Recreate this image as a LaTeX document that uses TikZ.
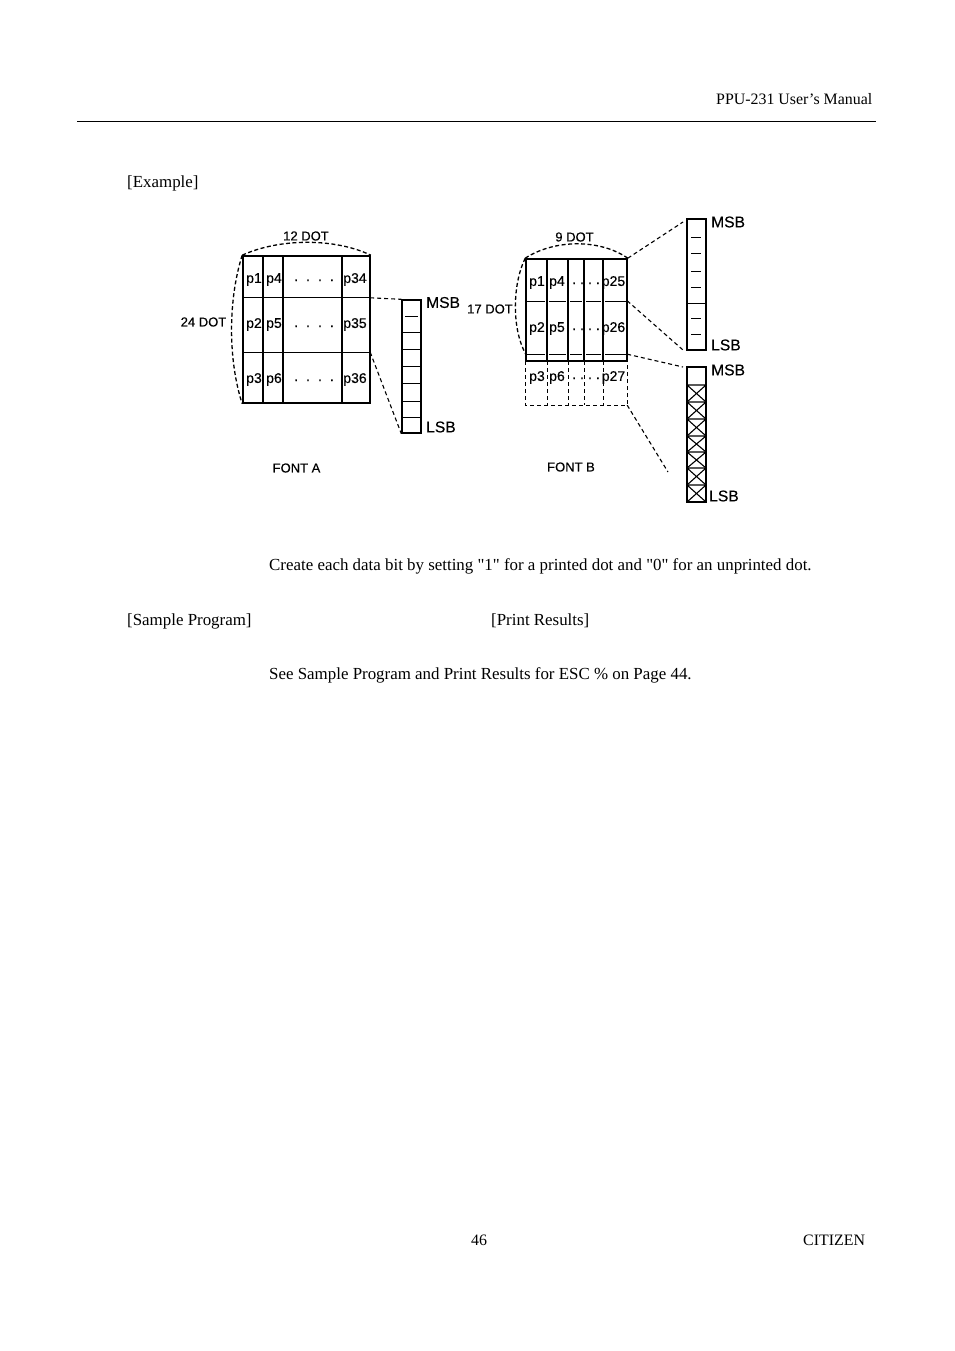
\documentclass[tikz,border=0pt]{standalone}
\usepackage{fontspec}
\setmainfont{Liberation Serif}[Ligatures=TeXOff]
\newfontfamily\scanfont{Liberation Sans}[FakeBold=0.35]
\usetikzlibrary{positioning,calc}

\begin{document}
\begin{tikzpicture}[x=1pt,y=-1pt,
pagetxt/.style={font=\fontsize{16.9}{20}\selectfont,inner sep=0pt,anchor=base west},
headtxt/.style={font=\fontsize{15.9}{19}\selectfont,inner sep=0pt,anchor=base west},
lbl/.style={font=\scanfont\fontsize{13}{15}\selectfont,inner sep=0pt},
cell/.style={font=\scanfont\fontsize{14}{16}\selectfont,inner sep=0pt,yshift=-1.5pt},
dotrow/.style={font=\scanfont\fontsize{14}{16}\selectfont,inner sep=0pt,anchor=base},
side/.style={font=\scanfont\fontsize{15.6}{17}\selectfont,inner sep=0pt,anchor=west},
gridbox/.style={draw,line width=1.6pt,inner sep=0pt},
stripbox/.style={draw,line width=1.4pt,inner sep=0pt,minimum width=19pt},
band/.style={inner sep=0pt},
leader/.style={dashed,dash pattern=on 4pt off 3pt,line width=1.1pt},
bow/.style={dashed,dash pattern=on 4pt off 2.5pt,line width=1.3pt}
]
\useasboundingbox (0,0) rectangle (954,1351);

% page text
\node[headtxt] (header) at (716,105) {PPU-231 User’s Manual};
\coordinate (ruleL) at (77,121);
\coordinate (ruleR) at (876,121);
\draw[line width=0.8pt] (ruleL) -- (ruleR);
\node[pagetxt] (example) at (127,187) {[Example]};
\node[pagetxt] (create) at (269,570) {Create each data bit by setting "1" for a printed dot and "0" for an unprinted dot.};
\node[pagetxt] (sample) at (127,625) {[Sample Program]};
\node[pagetxt] (results) at (491,625) {[Print Results]};
\node[pagetxt] (see) at (269,679) {See Sample Program and Print Results for ESC \% on Page 44.};
\node[headtxt] (pageno) at (471,1245) {46};
\node[headtxt] (citizen) at (803,1245) {CITIZEN};

% font A
\node[gridbox,minimum width=127pt,minimum height=147pt] (gridA) at (306.5,329.5) {};
\node[band,minimum width=127pt,minimum height=54pt] (rowAtwo) at (306.5,325) {};
\draw[line width=1.4pt] (263,256) -- (263,403) (283,256) -- (283,403) (342,256) -- (342,403);
\draw[line width=1.2pt] (rowAtwo.north west) -- (rowAtwo.north east) (rowAtwo.south west) -- (rowAtwo.south east);
\node[cell] (pa1) at (254,278) {p1};
\node[cell] (pa4) at (274,278) {p4};
\node[cell] (pa34) at (355,278) {p34};
\node[cell] (pa2) at (254,323) {p2};
\node[cell] (pa5) at (274,323) {p5};
\node[cell] (pa35) at (355,323) {p35};
\node[cell] (pa3) at (254,378) {p3};
\node[cell] (pa6) at (274,378) {p6};
\node[cell] (pa36) at (355,378) {p36};
\node[dotrow] (dotsAone) at (314,281) {.\hspace{8pt}.\hspace{8pt}.\hspace{8pt}.};
\node[dotrow] (dotsAtwo) at (314,327) {.\hspace{8pt}.\hspace{8pt}.\hspace{8pt}.};
\node[dotrow] (dotsAthree) at (314,381) {.\hspace{8pt}.\hspace{8pt}.\hspace{8pt}.};
\node[lbl] (widthA) at (306,236) {12 DOT};
\node[lbl] (heightA) at (203.5,322) {24 DOT};
\node[lbl] (fontA) at (296.5,468) {FONT A};
\draw[bow] (gridA.north west) .. controls (280,238) and (335,238) .. (gridA.north east);
\draw[bow] (gridA.north west) .. controls (228,300) and (228,360) .. (gridA.south west);

\node[stripbox,minimum height=133pt] (stripA) at (411.5,366.5) {};
\foreach \y in {332,349,366,383,401,417} \draw[line width=1pt] (403,\y) -- (421,\y);
\draw[line width=1pt] (405,316) -- (418,316);
\node[side] (msbA) at (426,302.5) {MSB};
\node[side] (lsbA) at (426,427) {LSB};
\draw[leader] (rowAtwo.north east) -- (stripA.north west);
\draw[leader] (rowAtwo.south east) -- (stripA.south west);

% font B
\node[gridbox,minimum width=101pt,minimum height=102pt] (gridB) at (576.5,310) {};
\node[band,minimum width=101pt,minimum height=53pt] (rowBtwo) at (576.5,327.5) {};
\node[band,minimum width=101pt,minimum height=44pt] (rowBthree) at (576.5,383) {};
\draw[line width=1.4pt] (547,259) -- (547,361) (568,259) -- (568,361) (584,259) -- (584,361) (603,259) -- (603,361);
\draw[line width=0.8pt] (527,301) -- (545,301) (549,301) -- (566,301) (570,301) -- (582,301) (586,301) -- (601,301) (605,301) -- (626,301);
\draw[line width=0.8pt] (527,354) -- (545,354) (549,354) -- (566,354) (570,354) -- (582,354) (586,354) -- (601,354) (605,354) -- (626,354);
\draw[leader] (rowBthree.north west) -- (rowBthree.south west) -- (rowBthree.south east) -- (rowBthree.north east);
\draw[leader,line width=0.9pt] (547,361) -- (547,405) (568,361) -- (568,405) (584,361) -- (584,405) (603,361) -- (603,405);
\node[cell] (pb1) at (537,281) {p1};
\node[cell] (pb4) at (557,281) {p4};
\node[cell] (pb25) at (613.5,281) {p25};
\node[cell] (pb2) at (537,327) {p2};
\node[cell] (pb5) at (557,327) {p5};
\node[cell] (pb26) at (613.5,327) {p26};
\node[cell] (pb3) at (537,376) {p3};
\node[cell] (pb6) at (557,376) {p6};
\node[cell] (pb27) at (613.5,376) {p27};
\node[dotrow] (dotsBone) at (586,284) {.\hspace{4pt}.\hspace{4pt}.\hspace{4pt}.};
\node[dotrow] (dotsBtwo) at (586,330) {.\hspace{4pt}.\hspace{4pt}.\hspace{4pt}.};
\node[dotrow] (dotsBthree) at (586,379) {.\hspace{4pt}.\hspace{4pt}.\hspace{4pt}.};
\node[lbl] (widthB) at (574.5,237) {9 DOT};
\node[lbl] (heightB) at (490,309) {17 DOT};
\node[lbl] (fontB) at (571,467) {FONT B};
\draw[bow] (gridB.north west) .. controls (555,239) and (600,239) .. (gridB.north east);
\draw[bow] (gridB.north west) .. controls (512,285) and (512,330) .. (rowBtwo.south west);

\node[stripbox,minimum height=131pt] (stripBup) at (696.5,284.5) {};
\foreach \y in {237,253,271,287,318,334} \draw[line width=1pt] (691,\y) -- (701,\y);
\draw[line width=1pt] (stripBup.west |- 0,303) -- (stripBup.east |- 0,303);
\node[side] (msbBup) at (711,222) {MSB};
\node[side] (lsbBup) at (711,345) {LSB};
\coordinate (leadUpT) at (683,222);
\coordinate (leadUpB) at (683,350);
\draw[leader] (gridB.north east) -- (leadUpT);
\draw[leader] (rowBtwo.north east) -- (leadUpB);

\node[stripbox,minimum height=135pt] (stripBlow) at (696.5,434.5) {};
\foreach \ya/\yb in {385/402,402/419,419/436,436/452,452/468,468/485,485/502}
  \draw[line width=1.1pt] (687,\ya) -- (706,\ya) (687,\ya) -- (706,\yb) (706,\ya) -- (687,\yb);
\node[side] (msbBlow) at (711,370) {MSB};
\node[side] (lsbBlow) at (709,496) {LSB};
\coordinate (leadLowT) at (683,367);
\coordinate (leadLowB) at (668,472);
\draw[leader] (rowBtwo.south east) -- (leadLowT);
\draw[leader] (rowBthree.south east) -- (leadLowB);
\end{tikzpicture}
\end{document}
